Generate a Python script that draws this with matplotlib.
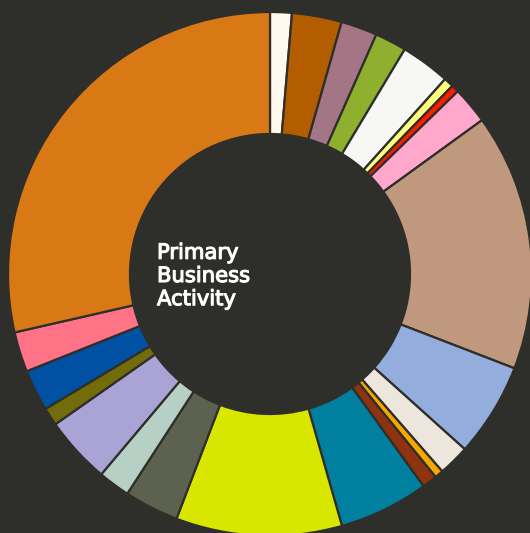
import matplotlib
matplotlib.use("Agg")
import matplotlib.pyplot as plt
import matplotlib.patheffects as pe

categories = ["Cat A", "Cat B", "Cat C", "Cat D", "Cat E", "Cat F", "Cat G", "Cat H",
              "Cat I", "Cat J", "Cat K", "Cat L", "Cat M", "Cat N", "Cat O", "Cat P",
              "Cat Q", "Cat R", "Cat S", "Cat T", "Cat U", "Cat V"]
values = [1.34, 3.07, 2.24, 1.95, 3.05, 0.60, 0.47, 2.29, 15.85, 5.80, 1.92, 0.53,
          0.92, 5.54, 10.24, 3.36, 1.97, 4.14, 1.11, 2.56, 2.47, 28.58]
colors = ["#fff8ee", "#b35c00", "#a37585", "#8fb02e", "#f7f7f5", "#ffff80", "#ff1a00",
          "#ffa8cc", "#c0987e", "#93aedd", "#ede6dc", "#f5a800", "#8f3210", "#00809e",
          "#d9e600", "#5d6150", "#b7d0c6", "#a9a3d6", "#736c0a", "#0051a3", "#ff7386",
          "#d97916"]
center_title = "Primary\nBusiness\nActivity"

bg = "#2e2e2a"
fig = plt.figure(figsize=(5.30, 5.33), dpi=100)
fig.patch.set_facecolor(bg)
ax = fig.add_axes([0, 0, 1, 1])
ax.set_facecolor(bg)

cx, cy, R, r_in = 270, 533 - 274, 262, 140
ax.pie(values, colors=colors, startangle=90, counterclock=False,
       center=(cx, cy), radius=R, frame=True,
       wedgeprops=dict(width=R - r_in, edgecolor=bg, linewidth=1.6))
ax.set_xlim(0, 530)
ax.set_ylim(0, 533)
ax.set_aspect("equal")
ax.axis("off")

ax.text(157, 533 - 276, center_title, color="white", fontsize=15.2,
        fontfamily="DejaVu Sans", fontweight="normal", ha="left", va="center",
        linespacing=1.2,
        path_effects=[pe.withStroke(linewidth=0.8, foreground="white")])

fig.savefig("out.png", dpi=100, facecolor=bg)
